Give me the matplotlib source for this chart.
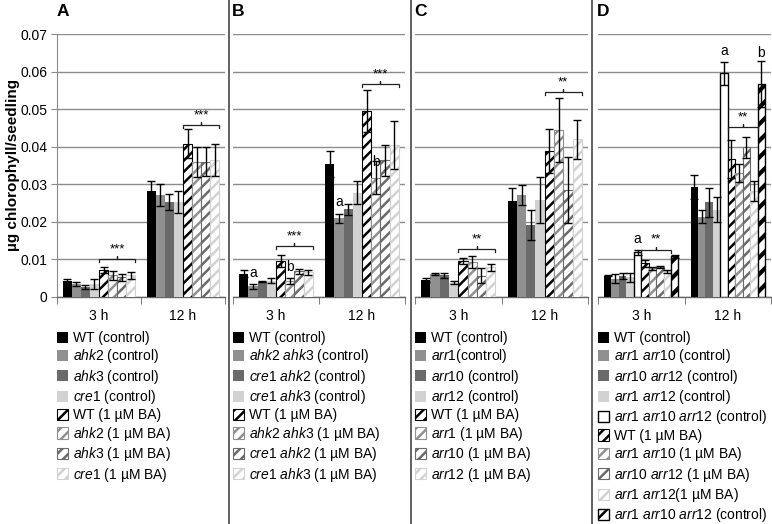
import matplotlib
matplotlib.use("Agg")
import matplotlib.pyplot as plt
from matplotlib.patches import Patch
from matplotlib.lines import Line2D

plt.rcParams['font.family'] = ['Liberation Sans', 'DejaVu Sans']
plt.rcParams['mathtext.fontset'] = 'custom'
plt.rcParams['mathtext.rm'] = 'Liberation Sans'
plt.rcParams['mathtext.it'] = 'Liberation Sans:italic'
plt.rcParams['mathtext.bf'] = 'Liberation Sans:bold'
plt.rcParams['hatch.linewidth'] = 1.8

# ---------------- data ----------------
times = ["3 h", "12 h"]
yticks = [0, 0.01, 0.02, 0.03, 0.04, 0.05, 0.06, 0.07]
ytick_labels = ["0", "0.01", "0.02", "0.03", "0.04", "0.05", "0.06", "0.07"]
ylabel = "µg chlorophyll/seedling"
panel_letters = ["A", "B", "C", "D"]

a_labels = [r"WT (control)", r"$\mathit{ahk2}$ (control)", r"$\mathit{ahk3}$ (control)",
            r"$\mathit{cre1}$ (control)", r"WT (1 µM BA)", r"$\mathit{ahk2}$ (1 µM BA)",
            r"$\mathit{ahk3}$ (1 µM BA)", r"$\mathit{cre1}$ (1 µM BA)"]
a_3h = [0.0043, 0.0034, 0.0027, 0.0035, 0.0072, 0.0058, 0.0052, 0.0058]
a_3h_err = [0.0006, 0.0006, 0.0005, 0.0013, 0.0009, 0.0012, 0.0010, 0.0009]
a_12h = [0.0282, 0.0271, 0.0253, 0.0253, 0.0408, 0.0360, 0.0360, 0.0365]
a_12h_err = [0.0028, 0.0030, 0.0022, 0.0030, 0.0038, 0.0040, 0.0038, 0.0042]

b_labels = [r"WT (control)", r"$\mathit{ahk2}$ $\mathit{ahk3}$ (control)",
            r"$\mathit{cre1}$ $\mathit{ahk2}$ (control)", r"$\mathit{cre1}$ $\mathit{ahk3}$ (control)",
            r"WT (1 µM BA)", r"$\mathit{ahk2}$ $\mathit{ahk3}$ (1 µM BA)",
            r"$\mathit{cre1}$ $\mathit{ahk2}$ (1 µM BA)", r"$\mathit{cre1}$ $\mathit{ahk3}$ (1 µM BA)"]
b_3h = [0.0062, 0.0028, 0.0041, 0.0043, 0.0097, 0.0042, 0.0068, 0.0066]
b_3h_err = [0.0009, 0.0007, 0.0002, 0.0007, 0.0016, 0.0008, 0.0007, 0.0007]
b_12h = [0.0354, 0.0209, 0.0233, 0.0278, 0.0495, 0.0318, 0.0364, 0.0405]
b_12h_err = [0.0035, 0.0012, 0.0015, 0.0030, 0.0055, 0.0045, 0.0041, 0.0063]

c_labels = [r"WT (control)", r"$\mathit{arr1}$(control)", r"$\mathit{arr10}$ (control)",
            r"$\mathit{arr12}$ (control)", r"WT (1 µM BA)", r"$\mathit{arr1}$ (1 µM BA)",
            r"$\mathit{arr10}$ (1 µM BA)", r"$\mathit{arr12}$ (1 µM BA)"]
c_3h = [0.0045, 0.0061, 0.0058, 0.0038, 0.0096, 0.0092, 0.0057, 0.0079]
c_3h_err = [0.0006, 0.0003, 0.0007, 0.0004, 0.0008, 0.0016, 0.0020, 0.0009]
c_12h = [0.0255, 0.0272, 0.0192, 0.0258, 0.0388, 0.0445, 0.0285, 0.0420]
c_12h_err = [0.0035, 0.0026, 0.0040, 0.0062, 0.0058, 0.0085, 0.0087, 0.0052]

d_labels = [r"WT (control)", r"$\mathit{arr1}$ $\mathit{arr10}$ (control)",
            r"$\mathit{arr10}$ $\mathit{arr12}$ (control)", r"$\mathit{arr1}$ $\mathit{arr12}$ (control)",
            r"$\mathit{arr1}$ $\mathit{arr10}$ $\mathit{arr12}$ (control)",
            r"WT (1 µM BA)", r"$\mathit{arr1}$ $\mathit{arr10}$ (1 µM BA)",
            r"$\mathit{arr10}$ $\mathit{arr12}$ (1 µM BA)", r"$\mathit{arr1}$ $\mathit{arr12}$(1 µM BA)",
            r"$\mathit{arr1}$ $\mathit{arr10}$ $\mathit{arr12}$ (control)"]
d_3h = [0.0057, 0.0048, 0.0056, 0.0053, 0.0119, 0.0090, 0.0077, 0.0079, 0.0068, 0.0108]
d_3h_err = [0.0001, 0.0012, 0.0009, 0.0012, 0.0007, 0.0009, 0.0004, 0.0003, 0.0004, 0.0003]
d_12h = [0.0294, 0.0214, 0.0252, 0.0232, 0.0595, 0.0367, 0.0329, 0.0398, 0.0283, 0.0567]
d_12h_err = [0.0032, 0.0017, 0.0038, 0.0033, 0.0031, 0.0051, 0.0024, 0.0029, 0.0027, 0.0060]

# significance brackets: (time index, first bar, last bar, height, stars)
a_brackets = [(0, 4, 7, 0.0100, "***"), (1, 4, 7, 0.0457, "***")]
b_brackets = [(0, 4, 7, 0.0135, "***"), (1, 4, 7, 0.0566, "***")]
c_brackets = [(0, 4, 7, 0.0127, "**"), (1, 4, 7, 0.0546, "**")]
d_brackets = [(0, 5, 8, 0.0126, "**"), (1, 5, 8, 0.0452, "**")]

# letters: (time index, bar, height, text)
a_letters = []
b_letters = [(0, 1, 0.0046, "a"), (1, 1, 0.0234, "a"), (0, 5, 0.0062, "b"), (1, 5, 0.0342, "b")]
c_letters = []
d_letters = [(0, 4, 0.0135, "a"), (1, 4, 0.0635, "a"), (1, 9, 0.0631, "b")]

# ---------------- styles ----------------
BLACK, G1, G2, G3 = "#000000", "#909090", "#6a6a6a", "#d2d2d2"
ctrl = [("solid", BLACK), ("solid", G1), ("solid", G2), ("solid", G3)]
ba = [("hatch", BLACK), ("hatch", G1), ("hatch", G2), ("hatch", G3)]
styles8 = ctrl + ba
styles10 = ctrl + [("white", BLACK)] + ba + [("thick", BLACK)]

W, H = 772, 524
fig = plt.figure(figsize=(W / 100, H / 100), dpi=100)

panels = [
    (57, 225, a_labels, a_3h, a_3h_err, a_12h, a_12h_err, a_brackets, a_letters, styles8, True),
    (233, 405, b_labels, b_3h, b_3h_err, b_12h, b_12h_err, b_brackets, b_letters, styles8, False),
    (415, 588, c_labels, c_3h, c_3h_err, c_12h, c_12h_err, c_brackets, c_letters, styles8, False),
    (598, 771, d_labels, d_3h, d_3h_err, d_12h, d_12h_err, d_brackets, d_letters, styles10, False),
]
top_px, bot_px = 34, 297


def patch_kwargs(style):
    kind, col = style
    if kind == "solid":
        return dict(facecolor=col, edgecolor=col, linewidth=0)
    if kind == "white":
        return dict(facecolor="white", edgecolor=col, linewidth=1.0)
    if kind == "hatch":
        return dict(facecolor="white", edgecolor=col, hatch="///", linewidth=0.8)
    return dict(facecolor="white", edgecolor=col, hatch="//", linewidth=1.0)


for pi, (lpx, rpx, labels, v3, e3, v12, e12, brackets, letters, styles, first) in enumerate(panels):
    ax = fig.add_axes([lpx / W, 1 - bot_px / H, (rpx - lpx) / W, (bot_px - top_px) / H])
    n = len(labels)
    bw = 0.86 / n
    vals = [v3, v12]
    errs = [e3, e12]
    xpos = lambda t, j: t + 0.5 + (j - (n - 1) / 2) * bw
    for t in range(2):
        for j in range(n):
            kw = patch_kwargs(styles[j])
            bars = ax.bar(xpos(t, j), vals[t][j], width=bw, zorder=3, **kw)
            if styles[j][0] == "thick":
                for b in bars:
                    if hasattr(b, "set_hatch_linewidth"):
                        b.set_hatch_linewidth(3.0)
            ax.errorbar(xpos(t, j), vals[t][j], yerr=errs[t][j], fmt="none", ecolor="black",
                        elinewidth=1.0, capsize=2.8, capthick=1.0, zorder=4)
    for (t, j0, j1, yb, stars) in brackets:
        x0 = xpos(t, j0) - bw / 2
        x1 = xpos(t, j1) + bw / 2
        xc = (x0 + x1) / 2
        d = 0.0008
        ax.plot([x0, x0, xc, xc, xc, x1, x1], [yb - d, yb, yb, yb + d, yb, yb, yb - d],
                color="#222222", lw=0.9, zorder=5, solid_joinstyle="miter")
        ax.text(xc, yb + d + 0.0002, stars, ha="center", va="bottom", fontsize=9.5, zorder=6)
    for (t, j, yl, s) in letters:
        ax.text(xpos(t, j), yl, s, ha="center", va="bottom", fontsize=10, zorder=6)

    ax.set_xlim(0, 2)
    ax.set_ylim(0, 0.07)
    ax.set_yticks(yticks)
    ax.yaxis.grid(True, color="#8c8c8c", lw=1.0, zorder=0)
    ax.set_axisbelow(True)
    for s in ["top", "right"]:
        ax.spines[s].set_visible(False)
    ax.spines["bottom"].set_color("#666666")
    ax.spines["bottom"].set_linewidth(1.0)
    if first:
        ax.set_yticklabels(ytick_labels, fontsize=10)
        ax.spines["left"].set_color("#8c8c8c")
        ax.tick_params(axis="y", length=4, color="#8c8c8c", pad=3)
    else:
        ax.spines["left"].set_visible(False)
        ax.tick_params(axis="y", length=0, labelleft=False)
    ax.set_xticks([0.5, 1.5])
    ax.set_xticklabels(times, fontsize=10)
    ax.tick_params(axis="x", which="major", length=0, pad=9)
    ax.set_xticks([0, 1, 2], minor=True)
    ax.tick_params(axis="x", which="minor", length=5, color="#666666")

    fig.text(lpx / W - 0.001, 1 - 16 / H, panel_letters[pi], fontsize=12.5, fontweight="bold",
             ha="left", va="baseline")

    handles = []
    for j in range(n):
        kind, col = styles[j]
        if kind == "solid":
            handles.append(Patch(facecolor=col, edgecolor=col, linewidth=0))
        else:
            handles.append(Patch(**patch_kwargs(styles[j])))
    leg = fig.legend(handles, labels, loc="upper left",
                     bbox_to_anchor=(lpx / W - 0.0005, 1 - 331 / H), frameon=False,
                     fontsize=10, handlelength=0.85, handleheight=0.85, handletextpad=0.35,
                     labelspacing=0.17, borderpad=0, borderaxespad=0)

fig.text(6 / W, 1 - 165 / H, ylabel, rotation=90, fontsize=11, fontweight="bold",
         ha="left", va="center")

for xd in [229, 411, 592]:
    fig.add_artist(Line2D([xd / W, xd / W], [0, 1], transform=fig.transFigure,
                          color="#555555", lw=1.3))

fig.savefig("out.png", dpi=100)
